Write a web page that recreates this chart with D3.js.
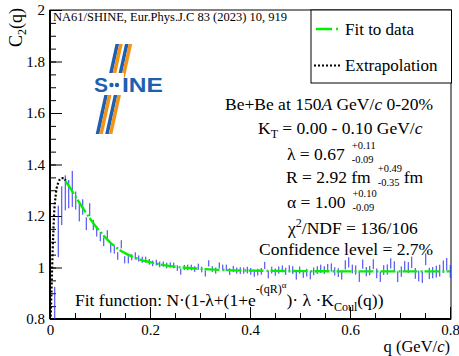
<!DOCTYPE html>
<html>
<head>
<meta charset="utf-8">
<script src="https://cdn.jsdelivr.net/npm/d3@7"></script>
<style>
  body { margin: 0; background: #fff; }
  text { font-family: "Liberation Serif", "Times New Roman", serif; }
</style>
</head>
<body>
<div id="chart"></div>
<script>
// bin centres q (GeV/c)
const qBins = [
  0.0095, 0.0165, 0.0235, 0.0305, 0.0375, 0.0445, 0.0515, 0.0585, 0.0655, 0.0725,
  0.0795, 0.0865, 0.0935, 0.1005, 0.1075, 0.1145, 0.1215, 0.1285, 0.1355, 0.1425,
  0.1495, 0.1565, 0.1635, 0.1705, 0.1775, 0.1845, 0.1915, 0.1985, 0.2055, 0.2125,
  0.2195, 0.2265, 0.2335, 0.2405, 0.2475, 0.2545, 0.2615, 0.2685, 0.2755, 0.2825,
  0.2895, 0.2965, 0.3035, 0.3105, 0.3175, 0.3245, 0.3315, 0.3385, 0.3455, 0.3525,
  0.3595, 0.3665, 0.3735, 0.3805, 0.3875, 0.3945, 0.4015, 0.4085, 0.4155, 0.4225,
  0.4295, 0.4365, 0.4435, 0.4505, 0.4575, 0.4645, 0.4715, 0.4785, 0.4855, 0.4925,
  0.4995, 0.5065, 0.5135, 0.5205, 0.5275, 0.5345, 0.5415, 0.5485, 0.5555, 0.5625,
  0.5695, 0.5765, 0.5835, 0.5905, 0.5975, 0.6045, 0.6115, 0.6185, 0.6255, 0.6325,
  0.6395, 0.6465, 0.6535, 0.6605, 0.6675, 0.6745, 0.6815, 0.6885, 0.6955, 0.7025,
  0.7095, 0.7165, 0.7235, 0.7305, 0.7375, 0.7445, 0.7515, 0.7585, 0.7655, 0.7725,
  0.7795, 0.7865, 0.7935, 0.8005
];
// measured C2(q)
const c2Values = [
  0.84, 1.14, 1.24, 1.29, 1.285, 1.305, 1.26, 1.215, 1.235, 1.17,
  1.225, 1.165, 1.14, 1.12, 1.10, 1.125, 1.075, 1.07, 1.045, 1.09,
  1.03, 1.03, 1.04, 1.045, 1.035, 1.03, 1.03, 1.022, 1.016, 1.019,
  1.012, 1.013, 1.008, 1.01, 1.008, 0.998, 0.984, 1.0, 1.0, 1.0,
  0.994, 1.003, 0.992, 0.977, 1.016, 0.994, 0.988, 1.008, 1.0, 0.999,
  0.984, 0.994, 0.988, 0.988, 0.988, 0.99, 0.985, 0.978, 0.982, 0.985,
  1.008, 0.972, 0.99, 0.982, 0.99, 0.995, 0.985, 0.995, 0.99, 0.968,
  0.99, 0.975, 0.98, 0.97, 0.985, 0.99, 0.995, 0.99, 0.998, 1.0,
  0.985, 0.98, 0.97, 1.01, 1.02, 0.994, 0.99, 0.964, 1.013, 0.984,
  0.988, 1.013, 0.977, 0.964, 0.99, 0.992, 1.016, 1.005, 0.964, 0.984,
  1.005, 1.0, 1.02, 0.977, 0.967, 0.962, 1.032, 0.977, 0.98, 0.984,
  0.988, 1.003, 1.013, 0.985
];
const c2Errors = [
  0.085, 0.10, 0.075, 0.068, 0.055, 0.07, 0.035, 0.036, 0.03, 0.025,
  0.025, 0.02, 0.02, 0.018, 0.017, 0.02, 0.017, 0.016, 0.015, 0.016,
  0.014, 0.014, 0.012, 0.014, 0.012, 0.012, 0.012, 0.011, 0.011, 0.011,
  0.011, 0.01, 0.011, 0.01, 0.011, 0.011, 0.012, 0.01, 0.011, 0.011,
  0.011, 0.012, 0.011, 0.012, 0.012, 0.011, 0.012, 0.012, 0.011, 0.012,
  0.013, 0.012, 0.012, 0.013, 0.012, 0.013, 0.013, 0.014, 0.013, 0.013,
  0.014, 0.014, 0.013, 0.014, 0.014, 0.013, 0.014, 0.014, 0.015, 0.015,
  0.014, 0.015, 0.015, 0.016, 0.015, 0.015, 0.016, 0.015, 0.016, 0.016,
  0.016, 0.017, 0.017, 0.018, 0.02, 0.017, 0.018, 0.02, 0.018, 0.018,
  0.018, 0.019, 0.019, 0.02, 0.019, 0.02, 0.02, 0.019, 0.021, 0.02,
  0.02, 0.021, 0.022, 0.021, 0.021, 0.022, 0.023, 0.022, 0.022, 0.023,
  0.023, 0.024, 0.024, 0.025
];
// fit curve
const fitQ = [0.031, 0.04, 0.05, 0.06, 0.07, 0.08, 0.09, 0.1, 0.11, 0.12, 0.13, 0.14,
  0.15, 0.16, 0.18, 0.2, 0.22, 0.25, 0.3, 0.35, 0.4, 0.5, 0.6, 0.7, 0.8];
const fitC = [1.335, 1.31, 1.278, 1.248, 1.218, 1.19, 1.163, 1.14, 1.118, 1.098, 1.082, 1.067,
  1.056, 1.046, 1.031, 1.021, 1.012, 1.003, 0.995, 0.99, 0.988, 0.986, 0.985, 0.985, 0.985];
// extrapolation below the fit range
const extrapQ = [0.0014, 0.0034, 0.0054, 0.008, 0.012, 0.0166, 0.023, 0.028, 0.031];
const extrapC = [0.81, 0.94, 1.07, 1.2, 1.29, 1.33, 1.347, 1.347, 1.338];

const xTicks = [0, 0.2, 0.4, 0.6, 0.8];
const yTicks = [0.8, 1, 1.2, 1.4, 1.6, 1.8, 2];

const W = 459, H = 356;
const frameL = 50, frameR = 451, frameT = 10, frameB = 319;

const svg = d3.select('#chart').append('svg')
  .attr('width', W).attr('height', H);

const x = d3.scaleLinear().domain([0, 0.8]).range([frameL, 450]);
const y = d3.scaleLinear().domain([0.8, 2]).range([frameB, frameT]);

// clip to the frame
svg.append('clipPath').attr('id', 'frame')
  .append('rect').attr('x', frameL).attr('y', frameT)
  .attr('width', frameR - frameL).attr('height', frameB - frameT);

// ---- SHINE logo
const logo = svg.append('g');
const blue = '#1f5fb0', orange = '#f39419';
const stripe = (xt, w, yt, yb, col) => {
  const s = 0.22 * (yb - yt);
  logo.append('polygon')
    .attr('points', [[xt, yt], [xt + w, yt], [xt + w - s, yb], [xt - s, yb]].join(' '))
    .attr('fill', col);
};
stripe(115.5, 3.6, 44, 134, blue);
stripe(119.1, 3.6, 44, 134, orange);
stripe(125, 3.6, 44, 134, blue);
stripe(128.6, 3.6, 44, 134, orange);
logo.append('rect').attr('x', 98).attr('y', 73).attr('width', 26).attr('height', 22).attr('fill', '#fff');
logo.append('text').attr('x', 94).attr('y', 92)
  .style('font-family', '"Liberation Sans", Arial, sans-serif').style('font-weight', 'bold')
  .attr('font-size', 21).attr('fill', blue).text('S');
logo.append('text').attr('x', 122).attr('y', 92)
  .style('font-family', '"Liberation Sans", Arial, sans-serif').style('font-weight', 'bold')
  .attr('font-size', 21).attr('fill', blue)
  .attr('textLength', 41).attr('lengthAdjust', 'spacingAndGlyphs').text('INE');
[111.5, 117].forEach(cx => logo.append('circle').attr('cx', cx).attr('cy', 85).attr('r', 2.2).attr('fill', blue));

// ---- axes (ROOT style, ticks inside)
svg.append('g').attr('transform', `translate(0,${frameB})`)
  .call(d3.axisBottom(x).tickValues(xTicks).tickSizeInner(-12).tickSizeOuter(0).tickPadding(5)
    .tickFormat(d => d3.format('')(d)));
svg.append('g').attr('transform', `translate(0,${frameB})`)
  .call(d3.axisBottom(x).ticks(16).tickSizeInner(-6).tickSizeOuter(0).tickFormat(''));
svg.append('g').attr('transform', `translate(${frameL},0)`)
  .call(d3.axisLeft(y).tickValues(yTicks).tickSizeInner(-12).tickSizeOuter(0).tickPadding(5)
    .tickFormat(d => d3.format('')(d)));
svg.append('g').attr('transform', `translate(${frameL},0)`)
  .call(d3.axisLeft(y).ticks(24).tickSizeInner(-6).tickSizeOuter(0).tickFormat(''));
svg.selectAll('.domain').remove();
svg.selectAll('.tick line').attr('stroke', '#000').attr('stroke-width', 1);
svg.selectAll('.tick text')
  .style('font-family', '"Liberation Serif", "Times New Roman", serif')
  .attr('font-size', 15).attr('fill', '#000');

// frame
svg.append('rect').attr('x', frameL).attr('y', frameT)
  .attr('width', frameR - frameL).attr('height', frameB - frameT)
  .attr('fill', 'none').attr('stroke', '#000').attr('stroke-width', 1);
svg.append('line').attr('x1', frameL).attr('x2', frameL).attr('y1', frameT).attr('y2', frameB)
  .attr('stroke', '#000').attr('stroke-width', 2);
svg.append('line').attr('x1', frameL).attr('x2', frameR).attr('y1', frameB).attr('y2', frameB)
  .attr('stroke', '#000').attr('stroke-width', 2);

// ---- data
const plot = svg.append('g').attr('clip-path', 'url(#frame)');
const points = qBins.map((q, i) => ({ q: q, c: c2Values[i], e: c2Errors[i] }));
plot.selectAll('line.err')
  .data(points)
  .join('line')
  .attr('class', 'err')
  .attr('x1', d => x(d.q)).attr('x2', d => x(d.q))
  .attr('y1', d => y(d.c - d.e)).attr('y2', d => y(d.c + d.e))
  .attr('stroke', '#3434f2').attr('stroke-width', 1);

plot.append('path')
  .datum(extrapQ.map((q, i) => [q, extrapC[i]]))
  .attr('fill', 'none').attr('stroke', '#000').attr('stroke-width', 2.2)
  .attr('stroke-dasharray', '2,2')
  .attr('d', d3.line().x(d => x(d[0])).y(d => y(d[1])).curve(d3.curveMonotoneX));

plot.append('path')
  .datum(fitQ.map((q, i) => [q, fitC[i]]))
  .attr('fill', 'none').attr('stroke', '#00f000').attr('stroke-width', 2.4)
  .attr('stroke-dasharray', '15,3,2,2')
  .attr('d', d3.line().x(d => x(d[0])).y(d => y(d[1])).curve(d3.curveMonotoneX));

// ---- header
svg.append('text').attr('x', 53).attr('y', 21).attr('font-size', 12.5)
  .text('NA61/SHINE, Eur.Phys.J.C 83 (2023) 10, 919');

// ---- legend
const leg = svg.append('g');
leg.append('rect').attr('x', 311).attr('y', 10).attr('width', 140.5).attr('height', 73)
  .attr('fill', '#fff').attr('stroke', '#000').attr('stroke-width', 1);
leg.append('line').attr('x1', 316).attr('x2', 340).attr('y1', 29).attr('y2', 29)
  .attr('stroke', '#00f000').attr('stroke-width', 2.4).attr('stroke-dasharray', '16,4,2,4');
leg.append('text').attr('x', 345).attr('y', 35).attr('font-size', 17).text('Fit to data');
leg.append('line').attr('x1', 314).attr('x2', 342).attr('y1', 65.5).attr('y2', 65.5)
  .attr('stroke', '#000').attr('stroke-width', 2).attr('stroke-dasharray', '2,2');
leg.append('text').attr('x', 345).attr('y', 71).attr('font-size', 17).text('Extrapolation');

// ---- result text
const fs = 17.5, small = 10.5;
const t1 = svg.append('text').attr('x', 225).attr('y', 110).attr('font-size', fs);
t1.append('tspan').text('Be+Be at 150');
t1.append('tspan').attr('font-style', 'italic').text('A');
t1.append('tspan').text(' GeV/');
t1.append('tspan').attr('font-style', 'italic').text('c');
t1.append('tspan').text(' 0-20%');

const t2 = svg.append('text').attr('x', 258).attr('y', 134).attr('font-size', fs);
t2.append('tspan').text('K');
t2.append('tspan').attr('font-size', 12).attr('dy', 4).text('T');
t2.append('tspan').attr('dy', -4).text(' = 0.00 - 0.10 GeV/');
t2.append('tspan').attr('font-style', 'italic').text('c');

// value with asymmetric errors, placed after the main text
const withErrors = (x0, yb, main, up, down, tail) => {
  const t = svg.append('text').attr('x', x0).attr('y', yb).attr('font-size', fs).text(main);
  const xe = x0 + t.node().getComputedTextLength() + 7;
  svg.append('text').attr('x', xe).attr('y', yb - 11).attr('font-size', small).text(up);
  svg.append('text').attr('x', xe).attr('y', yb + 3).attr('font-size', small).text(down);
  if (tail) {
    svg.append('text').attr('x', xe + 26).attr('y', yb).attr('font-size', fs).text(tail);
  }
  return t;
};
withErrors(287, 160, 'λ = 0.67', '+0.11', '-0.09');
withErrors(286, 183, 'R = 2.92 fm', '+0.49', '-0.35', 'fm');
withErrors(287, 208, 'α = 1.00', '+0.10', '-0.09');

const t6 = svg.append('text').attr('x', 288).attr('y', 234).attr('font-size', fs);
t6.append('tspan').text('χ');
t6.append('tspan').attr('font-size', 12).attr('dy', -7).text('2');
t6.append('tspan').attr('dy', 7).text('/NDF = 136/106');

svg.append('text').attr('x', 259).attr('y', 255).attr('font-size', fs).text('Confidence level = 2.7%');

const t8 = svg.append('text').attr('x', 75).attr('y', 306).attr('font-size', 17.5);
t8.append('tspan').text('Fit function: N·(1-λ+(1+e');
t8.append('tspan').attr('font-size', 12).attr('dy', -13).text('-(qR)');
t8.append('tspan').attr('font-size', 9).attr('dy', -5).text('α');
t8.append('tspan').attr('dy', 18).text(')· λ ·K');
t8.append('tspan').attr('font-size', 12).attr('dy', 5).text('Coul');
t8.append('tspan').attr('dy', -5).text('(q))');

// ---- axis titles
const yTitle = svg.append('text').attr('transform', 'translate(22,8) rotate(-90)')
  .attr('text-anchor', 'end').attr('font-size', 18);
yTitle.append('tspan').text('C');
yTitle.append('tspan').attr('font-size', 12).attr('dy', 4).text('2');
yTitle.append('tspan').attr('dy', -4).text('(q)');

const xTitle = svg.append('text').attr('x', 450).attr('y', 351.5)
  .attr('text-anchor', 'end').attr('font-size', 16.5);
xTitle.append('tspan').text('q (GeV/');
xTitle.append('tspan').attr('font-style', 'italic').text('c');
xTitle.append('tspan').text(')');
</script>
</body>
</html>
